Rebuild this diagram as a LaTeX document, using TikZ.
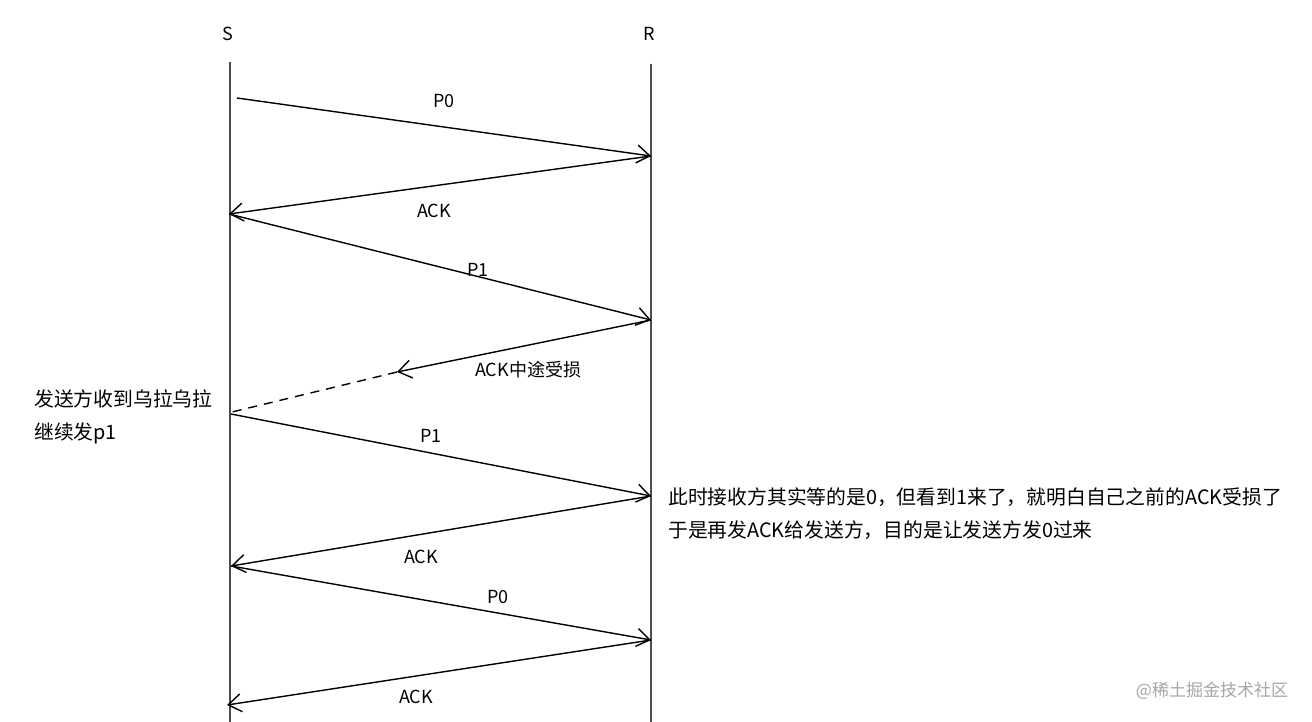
\documentclass[tikz,border=0pt]{standalone}
\usepackage{fontspec}
\setmainfont{Noto Sans CJK SC}
\usetikzlibrary{arrows.meta}
\tikzset{
  lifeline/.style={draw=black!70, line width=2pt},
  msg/.style={draw=black, line width=1.4pt, -{Straight Barb[length=13pt,width=18pt,line width=1.4pt]}},
  lost/.style={draw=black, line width=1.4pt, dashed, dash pattern=on 9pt off 7pt},
  lbl/.style={font=\fontsize{18}{20}\selectfont, inner sep=0pt},
  note/.style={font=\fontsize{19.8}{33}\selectfont, inner sep=0pt, align=left},
  wm/.style={font=\fontsize{17}{20}\selectfont, text=black!35, inner sep=0pt}
}
\begin{document}
\begin{tikzpicture}[x=1pt,y=-1pt]
\useasboundingbox[fill=white] (0,0) rectangle (1312,722);
% heads
\node[lbl] (S) at (228,34) {S};
\node[lbl] (R) at (649,34) {R};
% lifelines
\coordinate (s0) at (230,62);
\coordinate (s1) at (230,722);
\coordinate (r0) at (651,64);
\coordinate (r1) at (651,722);
\draw[lifeline] (s0) -- (s1);
\draw[lifeline] (r0) -- (r1);
% message points
\coordinate (a1) at (237,98);
\coordinate (b1) at (651,156);
\coordinate (a2) at (229,214);
\coordinate (b2) at (651,320);
\coordinate (m) at (397,372);
\coordinate (a3) at (232,412);
\coordinate (a4) at (231,414);
\coordinate (b3) at (651,496);
\coordinate (a5) at (231,566);
\coordinate (b4) at (651,640);
\coordinate (a6) at (227,705);
% messages
\draw[msg] (a1) -- (b1);
\draw[msg] (b1) -- (a2);
\draw[msg] (a2) -- (b2);
\draw[msg] (b2) -- (m);
\draw[lost] (m) -- (a3);
\draw[msg] (a4) -- (b3);
\draw[msg] (b3) -- (a5);
\draw[msg] (a5) -- (b4);
\draw[msg] (b4) -- (a6);
% labels
\node[lbl] (l1) at (444,101) {P0};
\node[lbl] (l2) at (434,211) {ACK};
\node[lbl] (l3) at (478,270) {P1};
\node[lbl,anchor=west] (l4) at (475,370) {ACK中途受损};
\node[lbl] (l5) at (431,436) {P1};
\node[lbl] (l6) at (421,557) {ACK};
\node[lbl] (l7) at (498,597) {P0};
\node[lbl] (l8) at (416,697) {ACK};
% notes
\node[note,anchor=north west] (n1) at (34,390) {发送方收到乌拉乌拉\\继续发p1};
\node[note,anchor=north west] (n2) at (668,488) {此时接收方其实等的是0，但看到1来了，就明白自己之前的ACK受损了\\于是再发ACK给发送方，目的是让发送方发0过来};
\node[wm] (w) at (1212,691) {@稀土掘金技术社区};
\end{tikzpicture}
\end{document}
